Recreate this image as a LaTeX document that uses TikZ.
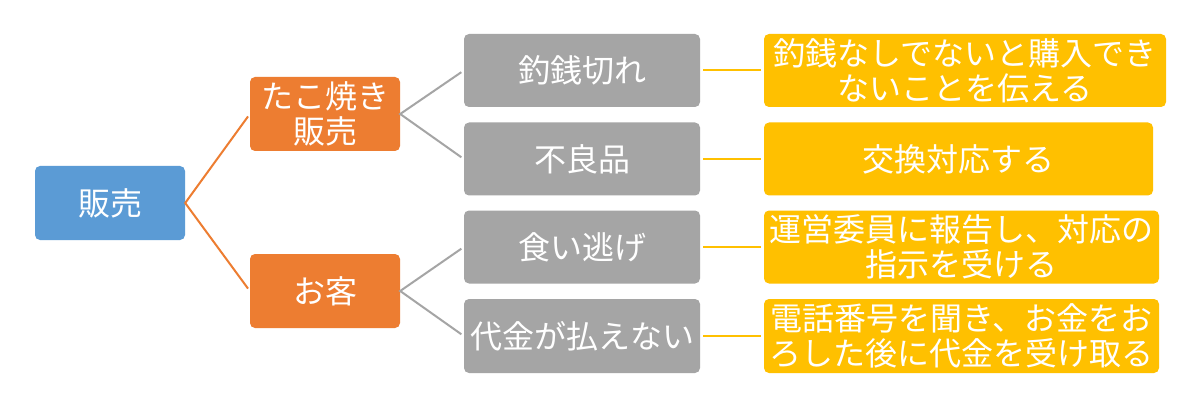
\documentclass[tikz,border=0pt]{standalone}
\usepackage{fontspec}
\setmainfont{Noto Sans CJK JP}
\definecolor{cblue}{HTML}{5B9BD5}
\definecolor{corange}{HTML}{ED7D31}
\definecolor{cgray}{HTML}{A5A5A5}
\definecolor{cyellow}{HTML}{FFC000}
\begin{document}
\begin{tikzpicture}[x=1pt,y=-1pt,
  box/.style={rounded corners=5pt, text=white, align=center, inner sep=0pt,
    font=\fontsize{32}{35}\selectfont},
  rootbox/.style={box, fill=cblue, minimum width=150pt, minimum height=74pt},
  lvone/.style={box, fill=corange, minimum width=150pt, minimum height=74pt},
  lvtwo/.style={box, fill=cgray, minimum width=236pt, minimum height=73pt},
  lvthree/.style={box, fill=cyellow, minimum height=73pt},
  link/.style={line width=2pt, shorten <=3pt, shorten >=3pt}
]
\useasboundingbox[fill=white] (0,0) rectangle (1200,401);

\node[rootbox] (root) at (110,203) {販売};
\node[lvone] (o1) at (325,114) {たこ焼き\\販売};
\node[lvone] (o2) at (325,291) {お客};

\node[lvtwo] (g1) at (582,70.5) {釣銭切れ};
\node[lvtwo] (g2) at (582,159) {不良品};
\node[lvtwo] (g3) at (582,247) {食い逃げ};
\node[lvtwo, minimum height=74pt] (g4) at (582,336) {代金が払えない};

\node[lvthree, minimum width=402pt] (y1) at (965,70.5) {釣銭なしでないと購入でき\\ないことを伝える};
\node[lvthree, minimum width=389pt] (y2) at (958.5,159) {交換対応する};
\node[lvthree, minimum width=395pt] (y3) at (961.5,247) {運営委員に報告し、対応の\\指示を受ける};
\node[lvthree, minimum width=395pt, minimum height=74pt] (y4) at (961.5,336) {電話番号を聞き、お金をお\\ろした後に代金を受け取る};

\draw[link, corange] (o1.west) -- (root.east) -- (o2.west);
\draw[link, cgray] (g1.west) -- (o1.east) -- (g2.west);
\draw[link, cgray] (g3.west) -- (o2.east) -- (g4.west);
\draw[link, cyellow] (g1.east) -- (y1.west);
\draw[link, cyellow] (g2.east) -- (y2.west);
\draw[link, cyellow] (g3.east) -- (y3.west);
\draw[link, cyellow] (g4.east) -- (y4.west);
\end{tikzpicture}
\end{document}
